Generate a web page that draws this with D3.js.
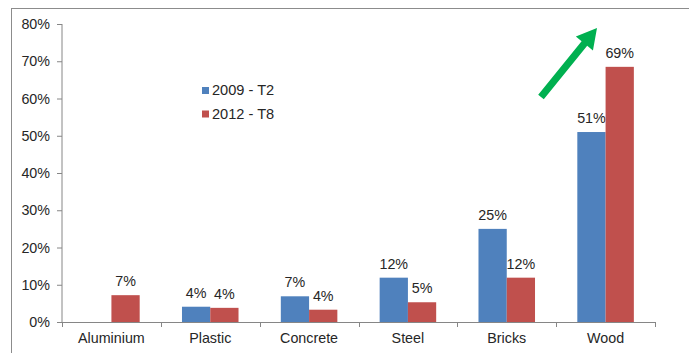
<!DOCTYPE html>
<html><head><meta charset="utf-8">
<script src="https://cdn.jsdelivr.net/npm/d3@7"></script>
<style>body{margin:0;background:#fff}svg{display:block;font-family:"Liberation Sans",Arial,sans-serif}</style>
</head><body>
<svg id="c" width="689" height="353"></svg>
<script>
const categories = ["Aluminium","Plastic","Concrete","Steel","Bricks","Wood"];
const series2009 = [null, 4.1, 6.9, 11.9, 25.0, 51.0];
const series2012 = [7.2, 3.8, 3.3, 5.3, 11.9, 68.5];
const labels2009 = ["", "4%", "7%", "12%", "25%", "51%"];
const labels2012 = ["7%", "4%", "4%", "5%", "12%", "69%"];
const seriesNames = ["2009 - T2", "2012 - T8"];
const yTicks = [0,10,20,30,40,50,60,70,80];

const colors = ["#4F81BD", "#C0504D"];
const FS = 14.3;
const svg = d3.select("#c");
const L = 62, R = 655, T = 24, B = 322;

svg.append("rect").attr("x",11.5).attr("y",8.5).attr("width",720).attr("height",400)
  .attr("fill","none").attr("stroke","#8c8c8c").attr("stroke-width",1);

const x = d3.scaleBand().domain(categories).range([L,R]).padding(0);
const y = d3.scaleLinear().domain([0,80]).range([B,T]);
const bw = x.bandwidth()*0.286;

// y axis
const ya = svg.append("g").attr("transform",`translate(${L},0)`)
  .call(d3.axisLeft(y).tickValues(yTicks).tickFormat(d=>d+"%").tickSize(5).tickPadding(7));
ya.select(".domain").attr("stroke","#868686").attr("d",`M-0.5,${T}V${B}`).attr("transform","translate(0.5,0)");
ya.selectAll(".tick line").attr("stroke","#868686");
ya.selectAll(".tick text").attr("font-size",FS).attr("fill","#262626").attr("font-family","Liberation Sans, Arial, sans-serif");

// x axis
const xa = svg.append("g").attr("transform",`translate(0,${B})`);
xa.append("line").attr("x1",L).attr("x2",R).attr("y1",0.5).attr("y2",0.5).attr("stroke","#868686");
const bounds = categories.map(c=>x(c)).concat([R]);
xa.selectAll("line.t").data(bounds).join("line").attr("class","t")
  .attr("x1",d=>Math.round(d)+0.5).attr("x2",d=>Math.round(d)+0.5).attr("y1",0).attr("y2",5).attr("stroke","#868686");
xa.selectAll("text").data(categories).join("text")
  .attr("x",d=>x(d)+x.bandwidth()/2).attr("y",21).attr("text-anchor","middle")
  .attr("font-size",FS).attr("fill","#262626").text(d=>d);

// bars
const data = [series2009, series2012];
const labs = [labels2009, labels2012];
data.forEach((s,si)=>{
  const g = svg.append("g");
  categories.forEach((c,i)=>{
    if (s[i]==null) return;
    const cx = x(c)+x.bandwidth()/2;
    const bx = si===0 ? cx-bw : cx;
    g.append("rect").attr("x",bx).attr("y",y(s[i])).attr("width",bw).attr("height",B-y(s[i]))
      .attr("fill",colors[si]);
    g.append("text").attr("x",bx+bw/2).attr("y",y(s[i])-9).attr("text-anchor","middle")
      .attr("font-size",FS).attr("fill","#262626").text(labs[si][i]);
  });
});

// legend
seriesNames.forEach((n,i)=>{
  const ly = 95 + i*23.5;
  svg.append("rect").attr("x",202).attr("y",ly-8).attr("width",7).attr("height",7).attr("fill",colors[i]);
  svg.append("text").attr("x",212).attr("y",ly).attr("font-size",14.6).attr("fill","#262626").text(n);
});

// arrow
const ax1 = 541, ay1 = 97, ax2 = 597, ay2 = 28;
const ang = Math.atan2(ay2-ay1, ax2-ax1);
const headLen = 20, headW = 11, shaftW = 3.6;
const ux = Math.cos(ang), uy = Math.sin(ang), px = -uy, py = ux;
const hbx = ax2 - ux*headLen, hby = ay2 - uy*headLen;
const pts = [
  [ax1+px*shaftW, ay1+py*shaftW],
  [hbx+px*shaftW, hby+py*shaftW],
  [hbx+px*headW, hby+py*headW],
  [ax2, ay2],
  [hbx-px*headW, hby-py*headW],
  [hbx-px*shaftW, hby-py*shaftW],
  [ax1-px*shaftW, ay1-py*shaftW]
];
svg.append("path").attr("d", d3.line()(pts)+"Z").attr("fill","#00B050");
</script>
</body></html>
